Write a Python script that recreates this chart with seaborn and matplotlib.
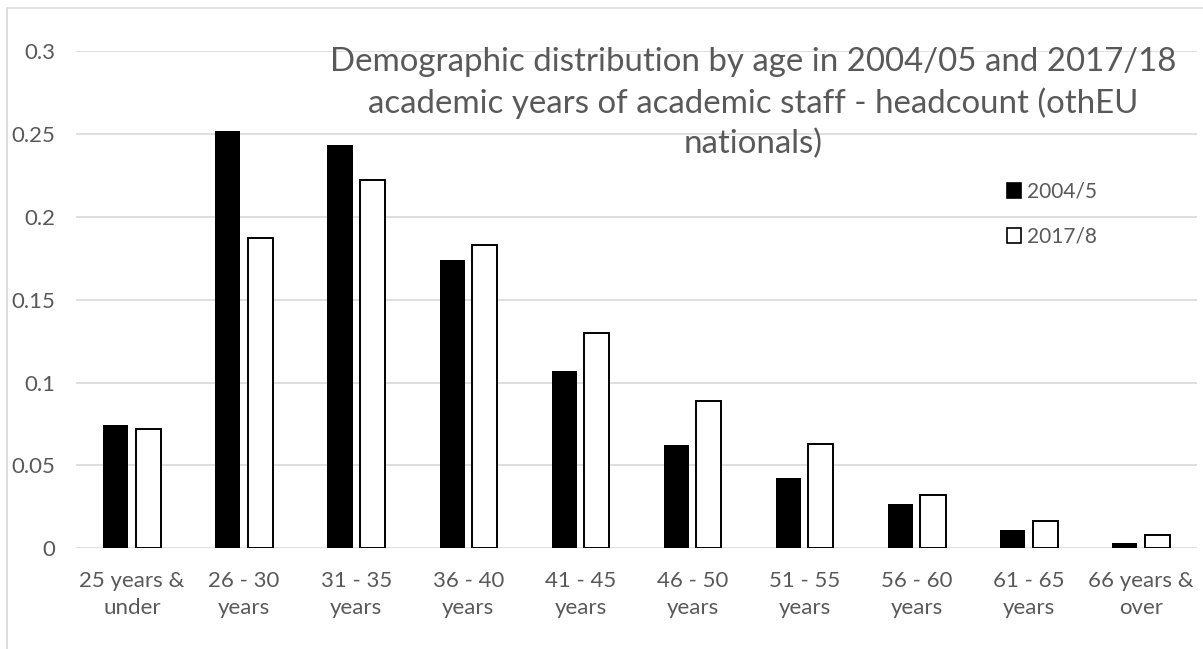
import matplotlib
matplotlib.use("Agg")
import matplotlib.pyplot as plt
from matplotlib.patches import Rectangle, Patch
import seaborn as sns
import pandas as pd

# Age bands and share of headcount in each academic year
age_bands = ["25 years &\nunder", "26 - 30\nyears", "31 - 35\nyears", "36 - 40\nyears",
             "41 - 45\nyears", "46 - 50\nyears", "51 - 55\nyears", "56 - 60\nyears",
             "61 - 65\nyears", "66 years &\nover"]
share_2004 = [0.0741, 0.2518, 0.2434, 0.1739, 0.1068, 0.0624, 0.0426, 0.0269, 0.0113, 0.0034]
share_2017 = [0.0721, 0.1870, 0.2219, 0.1827, 0.1299, 0.0889, 0.0628, 0.0319, 0.0165, 0.0080]
series = ["2004/5", "2017/8"]
y_ticks = [0, 0.05, 0.1, 0.15, 0.2, 0.25, 0.3]
y_tick_labels = ["0", "0.05", "0.1", "0.15", "0.2", "0.25", "0.3"]
title = ("Demographic distribution by age in 2004/05 and 2017/18\n"
         "academic years of academic staff - headcount (othEU\nnationals)")

df = pd.DataFrame({
    "age": age_bands * 2,
    "share": share_2004 + share_2017,
    "year": [series[0]] * len(age_bands) + [series[1]] * len(age_bands),
})

sns.set_theme(style="white")
plt.rcParams["font.family"] = ["Lato", "DejaVu Sans"]

W, H = 1203, 649
fig = plt.figure(figsize=(W / 100, H / 100), dpi=100)
fig.patch.set_facecolor("white")

# chart frame
fig.add_artist(Rectangle((7 / W, -0.1), 1.2, 1 - 8 / H + 0.1, transform=fig.transFigure,
                         fill=False, edgecolor="#d9d9d9", linewidth=1.2))

left, right = 76 / W, 1197 / W
bottom, top = 1 - 548.3 / H, 1 - 51 / H
ax = fig.add_axes([left, bottom, right - left, top - bottom])

sns.barplot(data=df, x="age", y="share", hue="year", order=age_bands, hue_order=series,
            palette={series[0]: "black", series[1]: "white"}, width=0.58, gap=0.23,
            edgecolor="black", linewidth=1.4, ax=ax, legend=False, zorder=3)
for p in ax.patches[:len(age_bands)]:
    p.set_linewidth(0)

ax.set_ylim(0, 0.3)
ax.set_xlim(-0.5, len(age_bands) - 0.5)
ax.set_yticks(y_ticks)
ax.set_yticklabels(y_tick_labels)
ax.yaxis.grid(True, color="#d9d9d9", linewidth=1.2, zorder=0)
ax.set_axisbelow(True)
for s in ax.spines.values():
    s.set_visible(False)
ax.set_xlabel("")
ax.set_ylabel("")
ax.tick_params(axis="both", length=0, colors="#595959", labelsize=16)
ax.tick_params(axis="y", pad=15)
ax.tick_params(axis="x", pad=16)
for t in ax.get_xticklabels():
    t.set_linespacing(1.45)
for t in ax.get_yticklabels():
    t.set_horizontalalignment("right")

fig.text(753 / W, 1 - 47 / H, title, ha="center", va="top", fontsize=23.8,
         color="#595959", linespacing=1.4)

handles = [Patch(facecolor="black", edgecolor="black", linewidth=1.2),
           Patch(facecolor="white", edgecolor="black", linewidth=1.2)]
leg = fig.legend(handles, series, loc="upper left", bbox_to_anchor=(988 / W, 1 - 163 / H),
                 frameon=False, fontsize=15, labelcolor="#595959", handlelength=0.67,
                 handleheight=0.67, handletextpad=0.3, labelspacing=1.2)

fig.savefig("out.png", dpi=100, facecolor="white")
